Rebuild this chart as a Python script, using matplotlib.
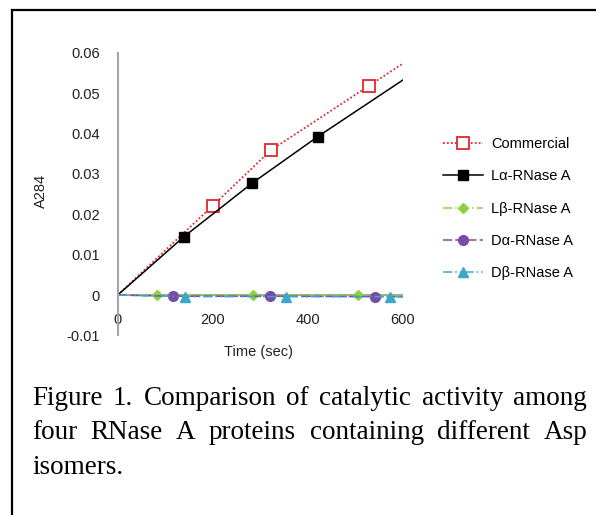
import matplotlib
matplotlib.use('Agg')
import matplotlib.pyplot as plt
from matplotlib.lines import Line2D

# data
t_comm = [0, 200, 323, 529, 600]
a_comm = [0, 0.0221, 0.0359, 0.0518, 0.0573]
t_la = [0, 139, 283, 421, 600]
a_la = [0, 0.0144, 0.0277, 0.0392, 0.0532]
t_lb = [0, 83, 284, 506, 600]
a_lb = [0, 0.0001, 0.0, 0.0, 0.0]
t_da = [0, 116, 321, 541, 600]
a_da = [0, -0.0003, -0.0003, -0.0004, -0.0004]
t_db = [0, 142, 354, 573, 600]
a_db = [0, -0.0004, -0.0004, -0.0004, -0.0005]

labels = ['Commercial', 'L\u03b1-RNase A', 'L\u03b2-RNase A', 'D\u03b1-RNase A', 'D\u03b2-RNase A']
xticks = [0, 200, 400, 600]
yticks = [-0.01, 0, 0.01, 0.02, 0.03, 0.04, 0.05, 0.06]

caption = ['Figure 1. Comparison of catalytic activity among',
           'four RNase A proteins containing different Asp',
           'isomers.']

plt.rcParams['font.family'] = ['Liberation Sans', 'DejaVu Sans']
fs = 10.5
tc = '#222222'

fig = plt.figure(figsize=(5.96, 5.15), dpi=100)
ax = fig.add_axes([0.1975, 0.3487, 0.4782, 0.549])

ax.plot(t_comm, a_comm, ls=(0, (1, 1.2)), color='#e0282c', lw=1.3,
        marker='s', ms=8, mfc='white', mec='#e0282c', mew=1.3, markevery=[1, 2, 3], label=labels[0])
ax.plot(t_la, a_la, ls='-', color='black', lw=1.1,
        marker='s', ms=6.5, mfc='black', mec='black', markevery=[1, 2, 3], label=labels[1])
ax.plot(t_lb, a_lb, ls=(0, (6, 2, 1, 2)), color='#8ed040', lw=1.1,
        marker='D', ms=5, mfc='#8ed040', mec='#8ed040', markevery=[1, 2, 3], label=labels[2])
ax.plot(t_da, a_da, ls=(0, (6, 2)), color='#7a4aa8', lw=1.1,
        marker='o', ms=7, mfc='#7a4aa8', mec='#7a4aa8', markevery=[1, 2, 3], label=labels[3])
ax.plot(t_db, a_db, ls=(0, (6, 2, 1, 2, 1, 2)), color='#3aa8c8', lw=1.1,
        marker='^', ms=7, mfc='#3aa8c8', mec='#3aa8c8', markevery=[1, 2, 3], label=labels[4])

ax.set_xlim(0, 600)
ax.set_ylim(-0.01, 0.06)
ax.axhline(0, color='#a6a6a6', lw=1.5, zorder=0)
for s in ['top', 'right', 'bottom']:
    ax.spines[s].set_visible(False)
ax.spines['left'].set_color('#a6a6a6')
ax.spines['left'].set_linewidth(1.5)
ax.set_xticks(xticks)
ax.set_xticklabels([str(v) for v in xticks])
ax.set_yticks(yticks)
ax.set_yticklabels(['%g' % v if v != 0 else '0' for v in yticks])
ax.tick_params(axis='y', length=0, pad=13, labelsize=fs, colors=tc)
ax.tick_params(axis='x', length=0, pad=-16, labelsize=fs, colors=tc)

fig.text(0.433, 0.316, 'Time (sec)', ha='center', va='center', fontsize=fs, color=tc)
fig.text(0.068, 0.63, 'A284', ha='center', va='center', rotation=90, fontsize=fs, color=tc)

ax.legend(loc='upper left', bbox_to_anchor=(0.743, 0.7335), bbox_transform=fig.transFigure,
          frameon=False, fontsize=fs, handlelength=2.75, handletextpad=0.55,
          labelspacing=1.25, borderpad=0, borderaxespad=0)

# border lines of the figure box
fig.add_artist(Line2D([11.5 / 596, 11.5 / 596], [0, 1 - 9.5 / 515], color='black', lw=1.6,
                      transform=fig.transFigure))
fig.add_artist(Line2D([11.5 / 596, 1], [1 - 9.5 / 515, 1 - 9.5 / 515], color='black', lw=1.6,
                      transform=fig.transFigure))

# justified caption
cap_font = dict(family='Liberation Serif', fontsize=19.5, color='black')
x0, x1 = 32 / 596, 587 / 596
baselines = [405, 439, 474]
r = fig.canvas.get_renderer()
for i, line in enumerate(caption):
    yb = 1 - baselines[i] / 515
    words = line.split(' ')
    if i == len(caption) - 1:
        fig.text(x0, yb, line, ha='left', va='baseline', **cap_font)
        continue
    widths = []
    for w in words:
        tt = fig.text(0, 0, w, **cap_font)
        widths.append(tt.get_window_extent(renderer=r).width / fig.bbox.width)
        tt.remove()
    gap = (x1 - x0 - sum(widths)) / (len(words) - 1)
    x = x0
    for w, wd in zip(words, widths):
        fig.text(x, yb, w, ha='left', va='baseline', **cap_font)
        x += wd + gap

fig.savefig('out.png', dpi=100)
